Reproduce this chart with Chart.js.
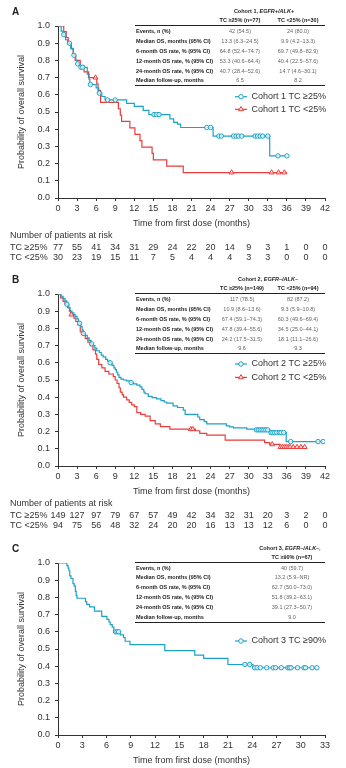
<!DOCTYPE html>
<html lang="en">
<head>
<meta charset="UTF-8" />
<title>Overall survival by cohort</title>
<script src="https://cdn.jsdelivr.net/npm/chart.js"></script>
<style>
  body { margin: 0; width: 346px; height: 768px; overflow: hidden; background: #fff;
         font-family: "Liberation Sans", Arial, sans-serif; color: #222; position: relative; }
  .panel { position: absolute; left: 0; width: 346px; height: 262px; }
  .panel canvas { position: absolute; left: 0; top: 0; }
  .letter { position: absolute; left: 12px; top: 6px; font-weight: bold; font-size: 10px; }
  .tbl div { position: absolute; white-space: nowrap; font-size: 5.5px; line-height: 8px; height: 8px; }
  .tbl .lab { left: 136px; font-weight: bold; color: #222; }
  .tbl .val { width: 90px; text-align: center; color: #666; }
  .tbl .head { width: 110px; text-align: center; font-weight: bold; color: #222; }
  .tbl .rule { left: 135px; width: 190px; height: 0; line-height: 0; border-top: 1px solid #222; }
  .tbl .rule.thin { border-top-width: 0.6px; }
</style>
</head>
<body>
  <!-- Panel A -->
  <div class="panel" id="panelA" style="top:0px">
    <canvas id="chartA" width="346" height="262"></canvas>
    <div class="letter">A</div>
    <div class="tbl" id="tblA"></div>
  </div>
  <!-- Panel B -->
  <div class="panel" id="panelB" style="top:268.3px">
    <canvas id="chartB" width="346" height="262"></canvas>
    <div class="letter">B</div>
    <div class="tbl" id="tblB"></div>
  </div>
  <!-- Panel C -->
  <div class="panel" id="panelC" style="top:536.7px">
    <canvas id="chartC" width="346" height="262"></canvas>
    <div class="letter">C</div>
    <div class="tbl" id="tblC"></div>
  </div>

<script>
// ---- Cohort 1 (EGFR+/ALK+) ----
const timesA1 = [0, 0.5, 0.8, 1.2, 1.5, 2.0, 2.4, 2.8, 3.0, 3.5, 4.6, 4.9, 5.0, 6.0, 6.4, 6.9, 7.4, 10.8, 12.0, 13.4, 14.3, 17.6, 18.2, 18.8, 19.3, 24.4, 33.3, 36];
const survA1  = [1.0, 0.97, 0.95, 0.92, 0.90, 0.87, 0.83, 0.80, 0.78, 0.76, 0.72, 0.69, 0.66, 0.64, 0.61, 0.59, 0.57, 0.55, 0.533, 0.51, 0.485, 0.46, 0.44, 0.43, 0.41, 0.36, 0.245, 0.245];
const censA1t = [0.9, 1.8, 2.5, 3.1, 3.6, 3.9, 5.1, 6.5, 7.8, 9.0, 15.1, 15.5, 15.9, 23.4, 24.0, 25.3, 25.7, 27.6, 28.0, 28.4, 28.9, 31.0, 31.4, 31.8, 32.2, 33.0, 34.6, 36];
const censA1s = [0.95, 0.90, 0.83, 0.78, 0.76, 0.76, 0.66, 0.61, 0.57, 0.57, 0.485, 0.485, 0.485, 0.41, 0.41, 0.36, 0.36, 0.36, 0.36, 0.36, 0.36, 0.36, 0.36, 0.36, 0.36, 0.36, 0.245, 0.245];

const timesA2 = [0, 0.9, 1.3, 1.6, 2.1, 2.4, 2.7, 3.5, 4.1, 4.8, 6.1, 6.3, 6.7, 9.5, 9.8, 10.0, 11.3, 12.1, 12.9, 13.2, 14.8, 15.0, 17.1, 19.7, 36];
const survA2  = [1.0, 0.967, 0.933, 0.90, 0.867, 0.833, 0.80, 0.767, 0.733, 0.70, 0.663, 0.626, 0.556, 0.519, 0.482, 0.445, 0.408, 0.37, 0.333, 0.296, 0.259, 0.222, 0.185, 0.148, 0.148];
const censA2t = [5.9, 27.3, 33.6, 34.7, 35.6];
const censA2s = [0.70, 0.148, 0.148, 0.148, 0.148];

// ---- Cohort 2 (EGFR-/ALK-) ----
const timesB1 = [0, 0.5, 0.8, 1.1, 1.4, 1.7, 1.9, 2.2, 2.5, 2.7, 3.0, 3.2, 3.4, 3.6, 3.8, 4.0, 4.3, 4.6, 4.9, 5.2, 5.5, 5.8, 6.1, 6.5, 6.8, 7.1, 7.5, 7.8, 8.2, 8.5, 8.8, 9.0, 9.2, 9.4, 9.6, 9.9, 10.3, 10.8, 11.3, 11.9, 12.4, 12.9, 13.2, 13.5, 13.7, 14.2, 14.8, 15.5, 16.2, 16.7, 17.1, 18.1, 18.8, 19.7, 20.0, 22.0, 22.3, 23.0, 23.4, 26.5, 27.0, 27.6, 29.7, 31.0, 33.3, 35.9, 41.7];
const survB1  = [1.0, 0.987, 0.973, 0.96, 0.94, 0.92, 0.90, 0.89, 0.88, 0.87, 0.855, 0.84, 0.83, 0.81, 0.79, 0.77, 0.76, 0.745, 0.73, 0.71, 0.70, 0.685, 0.67, 0.66, 0.645, 0.635, 0.62, 0.61, 0.60, 0.585, 0.57, 0.56, 0.545, 0.53, 0.515, 0.505, 0.50, 0.495, 0.485, 0.478, 0.47, 0.46, 0.445, 0.43, 0.42, 0.405, 0.398, 0.39, 0.38, 0.372, 0.365, 0.35, 0.34, 0.325, 0.30, 0.285, 0.27, 0.258, 0.245, 0.233, 0.228, 0.222, 0.214, 0.21, 0.194, 0.142, 0.142];
const censB1t = [1.4, 3.4, 4.0, 5.3, 8.2, 11.5, 31.2, 31.5, 31.8, 32.1, 32.4, 32.7, 33.0, 33.5, 33.8, 34.1, 34.4, 34.8, 35.1, 35.5, 36.6, 40.9, 41.7];
const censB1s = [0.94, 0.83, 0.77, 0.71, 0.60, 0.485, 0.21, 0.21, 0.21, 0.21, 0.21, 0.21, 0.21, 0.194, 0.194, 0.194, 0.194, 0.194, 0.194, 0.194, 0.142, 0.142, 0.142];

const timesB2 = [0, 0.4, 0.8, 1.1, 1.5, 1.8, 2.0, 2.5, 2.8, 3.1, 3.5, 3.9, 4.3, 4.7, 5.1, 5.5, 5.9, 6.1, 6.4, 6.9, 7.4, 8.0, 8.7, 9.0, 9.3, 9.6, 9.8, 10.1, 10.3, 10.8, 11.2, 11.6, 12.0, 12.4, 13.0, 13.7, 14.5, 15.3, 16.1, 17.6, 21.6, 22.3, 23.4, 26.3, 32.5, 33.3, 34.9, 38.8];
const survB2  = [1.0, 0.978, 0.957, 0.94, 0.92, 0.90, 0.88, 0.86, 0.84, 0.82, 0.78, 0.76, 0.74, 0.72, 0.70, 0.675, 0.65, 0.62, 0.59, 0.57, 0.55, 0.535, 0.52, 0.50, 0.48, 0.455, 0.43, 0.415, 0.40, 0.385, 0.37, 0.355, 0.345, 0.31, 0.30, 0.29, 0.264, 0.245, 0.229, 0.214, 0.205, 0.19, 0.18, 0.151, 0.136, 0.126, 0.11, 0.11];
const censB2t = [2.1, 20.9, 21.2, 33.7, 35.0, 35.3, 35.6, 35.9, 36.2, 36.5, 37.0, 37.6, 38.2, 38.8];
const censB2s = [0.88, 0.214, 0.214, 0.126, 0.11, 0.11, 0.11, 0.11, 0.11, 0.11, 0.11, 0.11, 0.11, 0.11];

// ---- Cohort 3 (EGFR-/ALK-, TC >=90%) ----
const timesC = [0, 1.1, 1.25, 1.35, 1.45, 1.6, 1.85, 2.0, 2.15, 2.25, 2.35, 3.4, 3.55, 3.9, 4.5, 5.4, 6.05, 6.3, 6.45, 6.7, 6.9, 7.7, 8.1, 8.3, 8.9, 13.2, 16.9, 18.0, 21.0, 24.1, 32];
const survC  = [1.0, 0.985, 0.97, 0.955, 0.925, 0.91, 0.88, 0.865, 0.835, 0.81, 0.795, 0.775, 0.76, 0.745, 0.72, 0.69, 0.672, 0.657, 0.642, 0.627, 0.60, 0.582, 0.567, 0.545, 0.525, 0.49, 0.464, 0.445, 0.41, 0.391, 0.391];
const censCt = [7.1, 7.3, 7.5, 23.1, 23.7, 24.3, 24.6, 25.0, 25.8, 26.6, 26.9, 27.6, 28.4, 28.6, 28.8, 29.6, 30.4, 30.6, 31.4, 32.0];
const censCs = [0.60, 0.60, 0.60, 0.41, 0.41, 0.391, 0.391, 0.391, 0.391, 0.391, 0.391, 0.391, 0.391, 0.391, 0.391, 0.391, 0.391, 0.391, 0.391, 0.391];

// ---- patients at risk ----
const riskTimes = [0, 3, 6, 9, 12, 15, 18, 21, 24, 27, 30, 33, 36, 39, 42];
const riskA1 = [77, 55, 41, 34, 31, 29, 24, 22, 20, 14, 9, 3, 1, 0, 0];
const riskA2 = [30, 23, 19, 15, 11, 7, 5, 4, 4, 4, 3, 3, 0, 0, 0];
const riskB1 = [149, 127, 97, 79, 67, 57, 49, 42, 34, 32, 31, 20, 3, 2, 0];
const riskB2 = [94, 75, 56, 48, 32, 24, 20, 20, 16, 13, 13, 12, 6, 0, 0];

// ---- summary tables ----
const rowLabels = ['Events, n (%)', 'Median OS, months (95% CI)', '6-month OS rate, % (95% CI)',
                   '12-month OS rate, % (95% CI)', '24-month OS rate, % (95% CI)', 'Median follow-up, months'];
const tblA1 = ['42 (54.5)', '13.3 (6.3–24.5)', '64.8 (52.4–74.7)', '53.3 (40.6–64.4)', '40.7 (28.4–52.6)', '6.5'];
const tblA2 = ['24 (80.0)', '9.9 (4.2–13.3)', '69.7 (49.8–82.9)', '40.4 (22.5–57.6)', '14.7 (4.6–30.1)', '8.2'];
const tblB1 = ['117 (78.5)', '10.9 (8.6–13.6)', '67.4 (59.1–74.3)', '47.8 (39.4–55.6)', '24.2 (17.5–31.5)', '9.6'];
const tblB2 = ['82 (87.2)', '9.3 (5.9–10.8)', '60.3 (49.6–69.4)', '34.5 (25.0–44.1)', '18.1 (11.1–26.6)', '9.3'];
const tblC1 = ['40 (59.7)', '13.2 (5.9–NR)', '62.7 (50.0–73.0)', '51.8 (39.2–63.1)', '39.1 (27.3–50.7)', '9.0'];

const BLUE = '#1ba2c6';
const RED = '#ee3b3b';
const FONT = '"Liberation Sans", Arial, sans-serif';

Chart.defaults.font.family = FONT;
Chart.defaults.font.size = 9;
Chart.defaults.color = '#333';

function buildTable(id, title, italic, cols, colX, titleX, values) {
  const el = document.getElementById(id);
  const rowY = [31, 40.7, 50.7, 60.7, 70.7, 80];
  let html = '';
  html += `<div class="head" style="left:${titleX - 55}px;top:${11 - 4}px">${title}<i>${italic}</i></div>`;
  cols.forEach((c, j) => {
    html += `<div class="head" style="left:${colX[j] - 55}px;top:${20 - 4}px">${c}</div>`;
  });
  html += `<div class="rule" style="top:25px"></div>`;
  rowLabels.forEach((lab, i) => {
    html += `<div class="lab" style="top:${rowY[i] - 4}px">${lab}</div>`;
    values.forEach((col, j) => {
      html += `<div class="val" style="left:${colX[j] - 45}px;top:${rowY[i] - 4}px">${col[i]}</div>`;
    });
  });
  html += `<div class="rule thin" style="top:85px"></div>`;
  el.innerHTML = html;
}

buildTable('tblA', 'Cohort 1, ', 'EGFR+/ALK+', ['TC ≥25% (n=77)', 'TC <25% (n=30)'], [240, 298], 264, [tblA1, tblA2]);
buildTable('tblB', 'Cohort 2, ', 'EGFR–/ALK–', ['TC ≥25% (n=149)', 'TC <25% (n=94)'], [242, 298], 268, [tblB1, tblB2]);
buildTable('tblC', 'Cohort 3, ', 'EGFR–/ALK–,', ['TC ≥90% (n=67)'], [292], 290, [tblC1]);

function pts(times, surv) {
  return times.map((t, i) => ({ x: t, y: surv[i] }));
}
function curve(times, surv, color) {
  return { data: pts(times, surv), borderColor: color, borderWidth: 1.2, stepped: true,
           pointRadius: 0, fill: false };
}
function censored(times, surv, color, style) {
  return { data: pts(times, surv), showLine: false, borderColor: color,
           backgroundColor: 'rgba(255,255,255,0.7)', pointStyle: style,
           pointRadius: style === 'triangle' ? 2.8 : 2.2, pointBorderWidth: 1 };
}

// legend drawn as line + marker + text, like the figure
const kmLegend = {
  id: 'kmLegend',
  afterDraw(chart, args, opts) {
    if (!opts.items) return;
    const ctx = chart.ctx;
    ctx.save();
    opts.items.forEach(it => {
      ctx.strokeStyle = it.color;
      ctx.lineWidth = 1.2;
      ctx.beginPath();
      ctx.moveTo(235, it.y);
      ctx.lineTo(247, it.y);
      ctx.stroke();
      ctx.fillStyle = '#fff';
      ctx.lineWidth = 1;
      Chart.helpers.drawPoint(ctx, { pointStyle: it.style, radius: it.style === 'triangle' ? 2.8 : 2.2, rotation: 0, borderWidth: 1 }, 241, it.y);
      ctx.fillStyle = '#333';
      ctx.font = '9px ' + FONT;
      ctx.textAlign = 'left';
      ctx.textBaseline = 'middle';
      ctx.fillText(it.text, 251.5, it.y);
    });
    ctx.restore();
  }
};

// number at risk under the x axis, aligned to the ticks
const riskTable = {
  id: 'riskTable',
  afterDraw(chart, args, opts) {
    const ctx = chart.ctx;
    const xs = chart.scales.x;
    const base = chart.chartArea.bottom;
    ctx.save();
    ctx.font = '9px ' + FONT;
    ctx.fillStyle = '#333';
    ctx.textBaseline = 'middle';
    ctx.textAlign = 'left';
    ctx.fillText('Number of patients at risk', 10, base + 38);
    (opts.rows || []).forEach((row, i) => {
      const y = base + 49.5 + i * 10;
      ctx.textAlign = 'left';
      ctx.fillText(row.label, 10, y);
      ctx.textAlign = 'center';
      row.values.forEach((v, j) => ctx.fillText(String(v), xs.getPixelForValue(riskTimes[j]), y));
    });
    ctx.restore();
  }
};

function makeChart(id, xMax, datasets, legendItems, riskRows) {
  new Chart(document.getElementById(id), {
    type: 'line',
    data: { datasets },
    options: {
      responsive: false,
      animation: false,
      layout: { padding: { top: 26, left: 0, right: 21, bottom: 0 } },
      plugins: {
        legend: { display: false },
        tooltip: { enabled: false },
        kmLegend: { items: legendItems },
        riskTable: { rows: riskRows }
      },
      scales: {
        x: {
          type: 'linear', min: 0, max: xMax,
          ticks: { stepSize: 3, autoSkip: false, maxRotation: 0, padding: 2, color: '#333' },
          grid: { drawOnChartArea: false, drawTicks: true, tickLength: 3, color: '#333' },
          border: { display: true, color: '#333', width: 1 },
          title: { display: true, text: 'Time from first dose (months)', color: '#333',
                   padding: { top: 0, bottom: 33.3 } },
          afterFit: s => { s.height = 64; }
        },
        y: {
          min: 0, max: 1,
          ticks: { stepSize: 0.1, padding: 5, color: '#333', callback: v => v.toFixed(1) },
          grid: { drawOnChartArea: false, drawTicks: true, tickLength: 3, color: '#333' },
          border: { display: true, color: '#333', width: 1 },
          title: { display: true, text: 'Probability of overall survival', color: '#333',
                   padding: { top: 16.6, bottom: 0 } },
          afterFit: s => { s.width = 58; }
        }
      }
    },
    plugins: [kmLegend, riskTable]
  });
}

makeChart('chartA', 42, [
  censored(censA1t, censA1s, BLUE, 'circle'),
  censored(censA2t, censA2s, RED, 'triangle'),
  curve(timesA1, survA1, BLUE),
  curve(timesA2, survA2, RED)
], [
  { text: 'Cohort 1 TC ≥25%', color: BLUE, style: 'circle', y: 96.7 },
  { text: 'Cohort 1 TC <25%', color: RED, style: 'triangle', y: 109.3 }
], [
  { label: 'TC ≥25%', values: riskA1 },
  { label: 'TC <25%', values: riskA2 }
]);

makeChart('chartB', 42, [
  censored(censB1t, censB1s, BLUE, 'circle'),
  censored(censB2t, censB2s, RED, 'triangle'),
  curve(timesB1, survB1, BLUE),
  curve(timesB2, survB2, RED)
], [
  { text: 'Cohort 2 TC ≥25%', color: BLUE, style: 'circle', y: 96 },
  { text: 'Cohort 2 TC <25%', color: RED, style: 'triangle', y: 109.4 }
], [
  { label: 'TC ≥25%', values: riskB1 },
  { label: 'TC <25%', values: riskB2 }
]);

makeChart('chartC', 33, [
  censored(censCt, censCs, BLUE, 'circle'),
  curve(timesC, survC, BLUE)
], [
  { text: 'Cohort 3 TC ≥90%', color: BLUE, style: 'circle', y: 104 }
], []);
</script>
</body>
</html>
